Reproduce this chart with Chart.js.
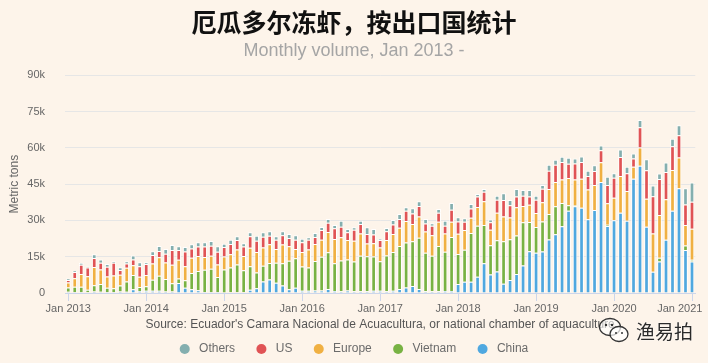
<!DOCTYPE html>
<html>
<head>
<meta charset="utf-8">
<script src="https://cdn.jsdelivr.net/npm/chart.js@4.4.1/dist/chart.umd.min.js"></script>
<style>
  html, body { margin: 0; padding: 0; background: #fdf4ea; }
  #wrap { position: relative; width: 708px; height: 363px; }
  #mark { position: absolute; left: 598px; top: 316px; display: flex; align-items: center;
          font-family: "Noto Sans CJK SC"; font-size: 19px; color: #2a2a2a; text-shadow: 0 0 2px #fff; }
  #mark span { margin-left: 6px; }
</style>
</head>
<body>
<div id="wrap">
  <canvas id="shrimp" width="708" height="363"></canvas>
  <div id="mark">
    <svg width="32" height="28" viewBox="0 0 32 28">
      <ellipse cx="12" cy="11" rx="10.5" ry="8.5" fill="rgba(255,255,255,0.6)" stroke="#333" stroke-width="1.3"/>
      <ellipse cx="21" cy="18" rx="9" ry="7.5" fill="rgba(255,255,255,0.7)" stroke="#333" stroke-width="1.3"/>
      <circle cx="8" cy="9" r="1.2" fill="#333"/><circle cx="14" cy="9" r="1.2" fill="#333"/>
      <circle cx="18" cy="17" r="1" fill="#333"/><circle cx="24" cy="17" r="1" fill="#333"/>
    </svg>
    <span>渔易拍</span>
  </div>
</div>
<script>
// monthly exports, thousand metric tons, Jan 2013 - Jan 2021
const monthNames = ['Jan', 'Feb', 'Mar', 'Apr', 'May', 'Jun', 'Jul', 'Aug', 'Sep', 'Oct', 'Nov', 'Dec'];
const firstYear = 2013;
const lastYear = 2021;

const china = [
  0.5, 0.4, 0.4, 0.3, 0.6, 0.5, 0.4, 0.4, 0.6, 0.5, 1.6, 0.8,
  0.9, 0.9, 0.9, 0.6, 0.6, 4.1, 2.2, 1.6, 1.1, 0.4, 0.4, 0.4,
  0.2, 0.3, 0.3, 0.3, 1.3, 2.0, 4.8, 5.6, 4.2, 3.1, 1.6, 2.2,
  0.9, 0.9, 1.0, 1.0, 1.7, 0.8, 0.7, 1.0, 0.7, 0.7, 0.7, 0.9,
  0.9, 0.7, 0.9, 1.7, 2.3, 2.9, 1.7, 0.7, 0.7, 0.7, 0.8, 0.8,
  3.7, 4.6, 4.6, 6.7, 12.3, 7.6, 8.9, 3.8, 5.4, 7.9, 11.4, 17.3,
  16.6, 17.2, 22.1, 24.3, 27.6, 34.0, 35.9, 35.2, 30.5, 34.3, 45.9, 27.7,
  30.1, 33.2, 29.9, 47.2, 52.6, 27.4, 8.8, 13.0, 22.0, 34.0, 43.3, 17.8,
  13.0
];
const vietnam = [
  1.8, 2.2, 2.2, 1.0, 2.6, 3.2, 1.8, 1.6, 2.5, 4.3, 5.8, 1.7,
  1.9, 4.6, 6.2, 5.2, 3.4, 1.9, 3.1, 6.7, 8.0, 9.2, 9.6, 6.2,
  9.5, 10.2, 11.5, 9.1, 9.8, 6.5, 6.5, 6.8, 8.3, 9.2, 11.7, 12.2,
  10.1, 9.6, 12.2, 14.0, 15.1, 11.5, 12.7, 12.9, 12.3, 14.7, 14.5, 14.2,
  12.2, 14.8, 16.0, 17.7, 18.6, 18.5, 21.1, 15.9, 14.7, 18.7, 16.3, 22.3,
  12.4, 13.3, 20.2, 21.1, 15.8, 12.1, 12.9, 17.6, 16.8, 15.9, 17.8, 12.1,
  10.7, 12.4, 10.6, 11.6, 9.6, 2.3, 0.3, 0, 0, 0, 0, 0.5,
  0, 0, 0, 0, 0, 0, 0, 1.6, 0, 0, 0, 1.8,
  0.7
];
const europe = [
  2.0, 3.5, 5.3, 5.6, 7.5, 6.0, 4.6, 5.2, 4.4, 5.6, 4.1, 4.2,
  4.6, 6.7, 7.7, 6.8, 7.7, 7.7, 5.8, 6.3, 6.2, 5.3, 5.4, 5.2,
  5.4, 5.5, 6.2, 5.9, 7.6, 8.5, 7.5, 7.8, 5.7, 7.8, 6.0, 3.8,
  6.0, 7.5, 7.1, 7.0, 8.4, 10.0, 9.6, 8.0, 8.6, 9.2, 5.3, 5.5,
  5.7, 6.4, 7.5, 7.6, 8.9, 7.1, 8.8, 8.8, 8.5, 10.1, 7.5, 6.4,
  8.4, 8.1, 6.3, 7.8, 9.8, 6.5, 11.4, 10.2, 9.0, 11.6, 6.8, 7.1,
  5.8, 7.9, 10.3, 10.0, 9.7, 11.2, 10.7, 12.0, 12.3, 10.4, 8.2, 8.9,
  9.3, 15.2, 12.3, 5.0, 7.5, 11.6, 15.8, 17.6, 16.8, 16.9, 12.7, 8.5,
  12.9
];
const us = [
  1.1, 2.6, 3.8, 3.6, 3.8, 2.8, 4.1, 5.3, 2.0, 1.8, 2.3, 4.4,
  4.6, 3.5, 2.6, 3.6, 6.1, 4.1, 6.1, 3.8, 3.9, 4.3, 4.1, 5.3,
  3.9, 4.3, 3.9, 3.9, 4.8, 4.6, 4.5, 3.5, 3.8, 3.8, 3.4, 3.8,
  4.0, 4.0, 2.9, 4.0, 3.8, 4.5, 4.4, 3.2, 4.5, 3.9, 3.9, 3.6,
  3.1, 3.6, 3.9, 3.6, 4.2, 4.4, 4.4, 3.3, 3.9, 3.7, 3.2, 4.9,
  5.1, 3.5, 3.8, 4.3, 4.0, 3.1, 5.3, 6.8, 5.1, 4.5, 4.2, 3.4,
  5.5, 5.6, 7.5, 7.1, 7.3, 5.9, 6.6, 7.0, 5.6, 5.7, 4.9, 7.6,
  8.2, 7.8, 7.3, 3.4, 8.4, 11.7, 15.4, 14.9, 11.2, 9.8, 9.2, 8.5,
  11.1
];
const others = [
  0.6, 0.5, 0.7, 0.5, 1.5, 1.4, 1.1, 0.6, 1.1, 0.9, 1.7, 1.6,
  0.7, 1.6, 2.0, 2.0, 2.0, 1.5, 1.8, 1.8, 1.8, 1.8, 2.0, 2.2,
  1.4, 1.7, 1.6, 1.4, 1.6, 2.1, 1.8, 1.8, 1.5, 1.6, 1.7, 1.9,
  1.4, 1.0, 1.6, 1.3, 1.6, 1.3, 2.5, 1.4, 1.1, 1.4, 2.8, 2.3,
  0.5, 1.4, 1.9, 2.1, 1.4, 2.1, 1.9, 1.9, 1.0, 1.5, 2.1, 2.8,
  1.7, 1.4, 1.9, 1.0, 1.1, 1.1, 1.7, 2.8, 2.1, 3.1, 2.4, 2.7,
  1.6, 1.5, 2.5, 2.1, 2.1, 2.5, 2.1, 2.2, 2.1, 2.4, 2.0, 3.4,
  1.9, 3.1, 2.7, 2.1, 3.0, 4.6, 4.4, 2.3, 3.9, 3.1, 4.2, 6.7,
  8.0
];

const labels = [];
for (let y = firstYear; y <= lastYear; y++) {
  for (const m of monthNames) {
    labels.push(m + ' ' + y);
    if (y === lastYear) break;
  }
}

// bottom of the stack first, legend is shown reversed
const series = [
  { label: 'China', data: china, color: '#4fa8e0' },
  { label: 'Vietnam', data: vietnam, color: '#78b243' },
  { label: 'Europe', data: europe, color: '#f0b042' },
  { label: 'US', data: us, color: '#e05355' },
  { label: 'Others', data: others, color: '#84afaf' },
];

Chart.defaults.font.family = '"Liberation Sans", Arial, sans-serif';

new Chart(document.getElementById('shrimp'), {
  type: 'bar',
  data: {
    labels: labels,
    datasets: series.map(s => ({
      label: s.label,
      data: s.data,
      backgroundColor: s.color,
      borderColor: '#ffffff',
      borderWidth: 1,
      borderSkipped: 'start',
      categoryPercentage: 1,
      barPercentage: 0.72,
    })),
  },
  options: {
    responsive: false,
    animation: false,
    devicePixelRatio: 1,
    layout: { padding: { left: 0, right: 0, top: 0, bottom: -2 } },
    scales: {
      x: {
        stacked: true,
        offset: true,
        grid: {
          offset: false,
          drawOnChartArea: false,
          drawTicks: true,
          tickLength: 8,
          color: ctx => (ctx.index % 12 === 0 ? '#ccd6eb' : 'rgba(0,0,0,0)'),
        },
        border: { color: '#ccd6eb', width: 1 },
        ticks: {
          autoSkip: false,
          maxRotation: 0,
          minRotation: 0,
          padding: 1.5,
          color: '#666666',
          font: { size: 11 },
          callback: function (value, index) {
            const text = this.getLabelForValue(value);
            if (!text.startsWith('Jan')) return '';
            // keep the last label inside the canvas
            return index === labels.length - 1 ? text + '\u00a0'.repeat(8) : text;
          },
        },
        title: {
          display: true,
          text: "Source: Ecuador's Camara Nacional de Acuacultura, or national chamber of aquaculture",
          color: '#555555',
          font: { size: 12 },
          padding: { top: 0.1, bottom: 3.3 },
        },
        afterFit: scale => { scale.paddingLeft = 0; scale.paddingRight = 12.75; },
      },
      y: {
        stacked: true,
        min: 0,
        max: 90,
        grid: { color: '#e6e6e6', drawTicks: false },
        border: { display: false },
        ticks: {
          stepSize: 15,
          padding: 20,
          color: '#666666',
          font: { size: 11 },
          callback: v => (v === 0 ? '0' : v + 'k'),
        },
        title: {
          display: true,
          text: 'Metric tons',
          color: '#666666',
          font: { size: 12 },
          padding: { top: 7, bottom: 0 },
        },
        afterFit: scale => { scale.width = 65; },
      },
    },
    plugins: {
      title: {
        display: true,
        text: '厄瓜多尔冻虾，按出口国统计',
        color: '#111111',
        font: { family: '"Noto Sans CJK SC"', size: 25, weight: 'bold', lineHeight: 1.2 },
        padding: { top: 7.5, bottom: 2.7 },
      },
      subtitle: {
        display: true,
        text: 'Monthly volume, Jan 2013 -',
        color: '#a5a5a5',
        font: { size: 18, lineHeight: 1.2 },
        padding: { top: 0, bottom: 13.5 },
      },
      legend: {
        position: 'bottom',
        reverse: true,
        labels: {
          usePointStyle: true,
          pointStyle: 'circle',
          pointStyleWidth: 10,
          boxHeight: 7,
          padding: 8,
          color: '#6b6b6b',
          font: { size: 12 },
          generateLabels: chart => {
            const items = Chart.defaults.plugins.legend.labels.generateLabels(chart);
            items.forEach(it => {
              it.strokeStyle = it.fillStyle;
              it.lineWidth = 0;
              it.text = '\u00a0' + it.text + (it.datasetIndex === 0 ? '' : '\u00a0\u00a0\u00a0\u00a0');
            });
            return items;
          },
        },
      },
      tooltip: { enabled: false },
    },
  },
});
</script>
</body>
</html>
